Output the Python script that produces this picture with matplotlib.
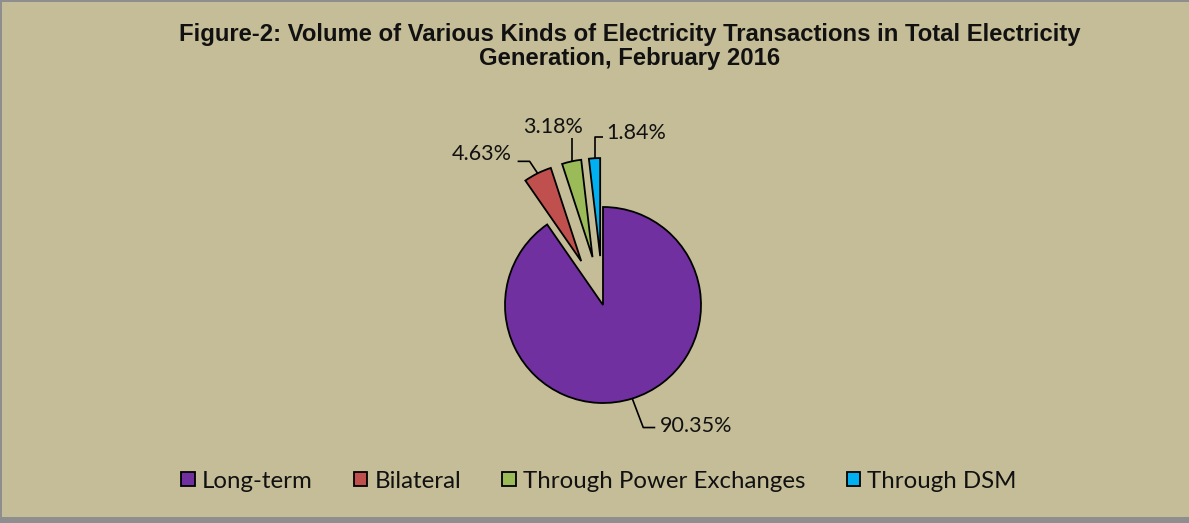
import numpy as np
import matplotlib
matplotlib.use("Agg")
import matplotlib.pyplot as plt
from matplotlib.patches import Rectangle

# ---- data ----
categories = ["Long-term", "Bilateral", "Through Power Exchanges", "Through DSM"]
values = [90.35, 4.63, 3.18, 1.84]
label_texts = ["90.35%", "4.63%", "3.18%", "1.84%"]
colors = ["#7030A0", "#C0504D", "#9BBB59", "#00B0F0"]
title_lines = ["Figure-2: Volume of Various Kinds of Electricity Transactions in Total Electricity",
               "Generation, February 2016"]

W, H = 1189, 523
BG = "#C4BD97"

fig = plt.figure(figsize=(W / 100, H / 100), dpi=100, facecolor=BG)
ax = fig.add_axes([0, 0, 1, 1])
ax.set_facecolor(BG)

cx, cy, R = 603, H - 305, 98
explode_frac = [0, 0.5, 0.5, 0.5]
wedges, _ = ax.pie(values, colors=colors, startangle=90, counterclock=False,
                   center=(cx, cy), radius=R, explode=[e * R for e in explode_frac],
                   wedgeprops=dict(edgecolor="black", linewidth=1.3))
ax.set_xlim(0, W)
ax.set_ylim(0, H)
ax.set_aspect("equal")
ax.axis("off")

lab_font = dict(family=["Lato", "DejaVu Sans"], fontsize=15.5, color="#111111")

def arc_point(w):
    mid = np.deg2rad((w.theta1 + w.theta2) / 2)
    return np.array([w.center[0] + w.r * np.cos(mid), w.center[1] + w.r * np.sin(mid)])

# leader line shapes (pixel offsets from arc point) and text anchor
leaders = [
    ([(0, 0), (11, -29), (23, -29)], (28, -27.5), "left", "center"),
    ([(0, 0), (-8, 12), (-20, 12)], (-26, 19), "right", "center"),
    ([(0, 0), (0, 23)], (-19, 34), "center", "center"),
    ([(0, 0), (0, 21), (8, 21)], (12, 25), "left", "center"),
]
for w, txt, (pts, toff, ha, va) in zip(wedges, label_texts, leaders):
    p = arc_point(w)
    xs = [p[0] + a for a, b in pts]
    ys = [p[1] + b for a, b in pts]
    ax.plot(xs, ys, color="black", lw=1.2, solid_capstyle="butt")
    ax.text(p[0] + toff[0], p[1] + toff[1], txt, ha=ha, va=va, **lab_font)

for i, line in enumerate(title_lines):
    ax.text(630, H - 34 - 24 * i, line, ha="center", va="center",
            family="Liberation Sans", fontweight="bold", fontsize=17.2, color="#111111")

leg = ax.legend(wedges, categories, loc="center", bbox_to_anchor=(599 / W, 1 - 481 / H),
                ncol=4, frameon=False, handlelength=0.55, handleheight=0.55,
                handletextpad=0.3, columnspacing=1.72,
                prop=dict(family="Lato", size=17.3))
for t in leg.get_texts():
    t.set_color("#111111")

# border / shadow
ax.add_patch(Rectangle((0, 0), W, 6, facecolor="#8E8E8E", edgecolor="none", zorder=5))
ax.add_patch(Rectangle((0, 0), 1.5, H, facecolor="#8E8E8E", edgecolor="none", zorder=5))
ax.add_patch(Rectangle((0, H - 1.5), W, 1.5, facecolor="#8E8E8E", edgecolor="none", zorder=5))

fig.savefig("out.png", dpi=100, facecolor=BG)
